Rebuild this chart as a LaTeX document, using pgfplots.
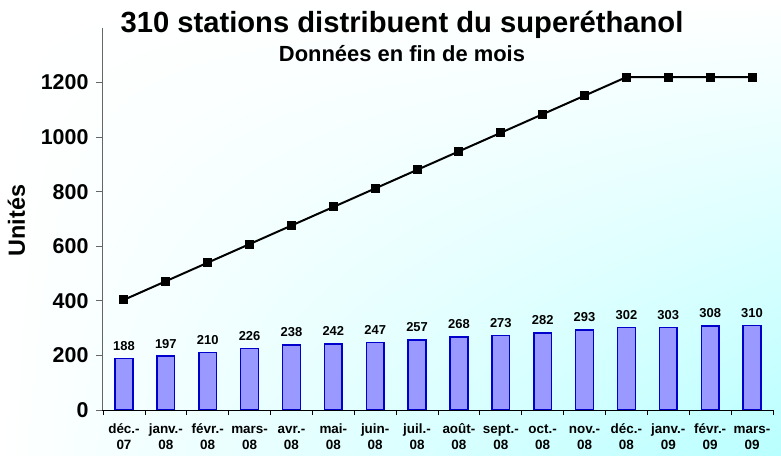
\documentclass[border=0pt]{standalone}
\usepackage{fontspec}
\setmainfont{Liberation Sans}
\usepackage{pgfplots}
\pgfplotsset{compat=1.18}
\usetikzlibrary{shadings}

\definecolor{barfill}{RGB}{153,153,255}
\definecolor{baredge}{RGB}{0,0,204}
\definecolor{bgcyan}{RGB}{185,255,255}

\begin{document}
\begin{tikzpicture}
% chart area background
\shade[upper left=white, upper right=white, lower left=white, lower right=bgcyan]
  (-102bp,-46bp) rectangle (679bp,410bp);

\begin{axis}[
    at={(0,0)}, anchor=south west,
    width=672bp, height=382bp, scale only axis,
    xmin=-0.525, xmax=15.525,
    ymin=0, ymax=1400,
    axis x line*=bottom,
    axis y line*=left,
    y axis line style={draw=gray!80!black},
    ytick={0,200,...,1200},
    xtick={0,...,15},
    xticklabels={{\strut déc.-\\07},{\strut janv.-\\08},{\strut févr.-\\08},{\strut mars-\\08},
                 {\strut avr.-\\08},{\strut mai-\\08},{\strut juin-\\08},{\strut juil.-\\08},
                 {\strut août-\\08},{\strut sept.-\\08},{\strut oct.-\\08},{\strut nov.-\\08},
                 {\strut déc.-\\08},{\strut janv.-\\09},{\strut févr.-\\09},{\strut mars-\\09}},
    minor xtick={-0.5,0.5,...,15.5},
    tick align=outside,
    x tick style={draw=none},
    minor x tick style={draw=black, line width=0.8bp},
    minor tick length=5bp,
    y tick style={draw=gray!80!black, line width=0.8bp},
    major tick length=6bp,
    /pgf/number format/1000 sep={},
    /pgf/number format/assume math mode=true,
    yticklabel style={font=\bfseries\fontsize{21.5}{21.5}\selectfont, xshift=-4bp},
    xticklabel style={align=center, font=\bfseries\fontsize{13.5}{16}\selectfont, yshift=-3bp},
]
\addplot[ybar, bar width=17.7bp, fill=barfill, draw=baredge, line width=1.5bp,
    nodes near coords,
    nodes near coords style={font=\bfseries\fontsize{13}{13}\selectfont, text=black, yshift=4bp}]
  coordinates {(0,188) (1,197) (2,210) (3,226) (4,238) (5,242) (6,247) (7,257)
               (8,268) (9,273) (10,282) (11,293) (12,302) (13,303) (14,308) (15,310)};
\addplot[black, line width=2bp, mark=square*, mark size=3.5bp]
  coordinates {(0,404) (1,472) (2,540) (3,608) (4,676) (5,744) (6,812) (7,880)
               (8,948) (9,1016) (10,1084) (11,1152) (12,1220) (13,1220) (14,1220) (15,1220)};
\end{axis}

\node[anchor=base, font=\bfseries\fontsize{29.3}{30}\selectfont] at (300bp,377.7bp)
  {310 stations distribuent du superéthanol};
\node[anchor=base, font=\bfseries\fontsize{22}{22}\selectfont] at (300bp,348.3bp)
  {Données en fin de mois};
\node[anchor=base, rotate=90, font=\bfseries\fontsize{23.5}{23.5}\selectfont] at (-77bp,189.5bp)
  {Unités};

\pgfresetboundingbox
\path[use as bounding box] (-102bp,-46bp) rectangle (679bp,410bp);
\end{tikzpicture}
\end{document}
